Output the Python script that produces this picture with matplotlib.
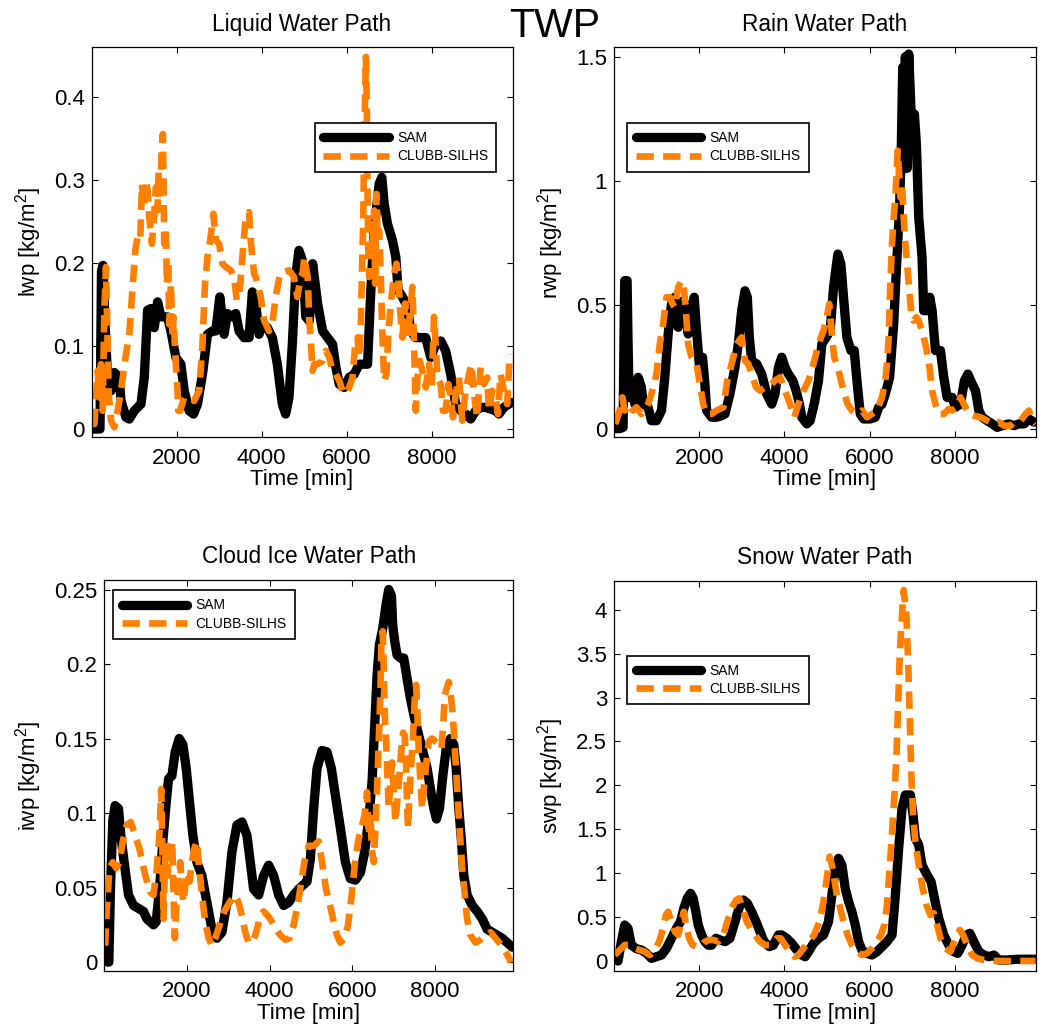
import matplotlib
matplotlib.use("Agg")
import matplotlib.pyplot as plt
from matplotlib.ticker import FuncFormatter

plt.rcParams['font.family'] = ['Liberation Sans', 'DejaVu Sans']
plt.rcParams['mathtext.fontset'] = 'custom'
plt.rcParams['mathtext.rm'] = 'Liberation Sans'
plt.rcParams['mathtext.it'] = 'Liberation Sans:italic'

# ---------------- data (time in minutes, paths in kg/m^2) ----------------
lwp_sam_t = [20, 107, 200, 235, 270, 300, 341, 380, 459, 537, 654, 693, 811, 889, 1006, 1163, 1241, 1319, 1397,
             1476, 1554, 1632, 1788, 1867, 1984, 2101, 2180, 2297, 2399, 2493, 2610, 2727, 2845, 2923, 3017,
             3118, 3197, 3298, 3392, 3470, 3588, 3705, 3783, 3862, 3940, 4018, 4135, 4253, 4370, 4487, 4566,
             4644, 4722, 4800, 4878, 4957, 5040, 5122, 5200, 5317, 5435, 5552, 5669, 5748, 5826, 5943, 6060,
             6178, 6295, 6412, 6491, 6569, 6647, 6764, 6827, 6882, 6960, 7077, 7156, 7210, 7312, 7430, 7508,
             7625, 7742, 7860, 7977, 8094, 8212, 8329, 8446, 8564, 8681, 8798, 8916, 9033, 9150, 9268, 9385,
             9502, 9581, 9698, 9815, 9880]
lwp_sam = [0.0, 0.0, 0.0, 0.19, 0.197, 0.15, 0.10, 0.062, 0.046, 0.068, 0.062, 0.034, 0.014, 0.012, 0.022, 0.03,
           0.062, 0.143, 0.145, 0.122, 0.153, 0.135, 0.135, 0.118, 0.086, 0.078, 0.046, 0.022, 0.018, 0.030,
           0.066, 0.114, 0.118, 0.118, 0.159, 0.114, 0.139, 0.135, 0.139, 0.118, 0.110, 0.110, 0.165, 0.151,
           0.114, 0.127, 0.122, 0.110, 0.078, 0.030, 0.018, 0.038, 0.102, 0.183, 0.215, 0.203, 0.135, 0.130,
           0.199, 0.151, 0.118, 0.110, 0.102, 0.074, 0.054, 0.050, 0.062, 0.066, 0.078, 0.078, 0.078, 0.167,
           0.239, 0.295, 0.303, 0.271, 0.247, 0.227, 0.207, 0.167, 0.159, 0.147, 0.118, 0.110, 0.110, 0.110,
           0.086, 0.102, 0.106, 0.094, 0.066, 0.030, 0.022, 0.018, 0.012, 0.022, 0.026, 0.026, 0.024, 0.022,
           0.018, 0.026, 0.030, 0.032]

lwp_clubb_t = [20, 67, 146, 185, 224, 263, 302, 341, 380, 404, 459, 537, 615, 693, 811, 889, 967, 1030, 1084,
               1147, 1186, 1241, 1280, 1319, 1358, 1421, 1476, 1515, 1554, 1577, 1616, 1648, 1679, 1695, 1710,
               1749, 1773, 1804, 1828, 1867, 1906, 1929, 1984, 2023, 2039, 2086, 2180, 2297, 2415, 2532, 2610,
               2665, 2727, 2790, 2868, 2923, 3001, 3079, 3158, 3275, 3353, 3416, 3470, 3525, 3572, 3627, 3705,
               3744, 3783, 3823, 3862, 3901, 3979, 4057, 4174, 4253, 4331, 4433, 4527, 4644, 4761, 4840, 4918,
               4965, 5004, 5083, 5122, 5161, 5200, 5239, 5317, 5435, 5513, 5591, 5669, 5748, 5826, 5904, 5982,
               6060, 6139, 6201, 6256, 6295, 6334, 6358, 6389, 6412, 6452, 6475, 6491, 6506, 6530, 6569, 6608,
               6647, 6671, 6702, 6725, 6764, 6803, 6843, 6882, 6937, 6984, 7038, 7117, 7171, 7218, 7250, 7312,
               7375, 7430, 7484, 7547, 7586, 7625, 7665, 7719, 7781, 7860, 7938, 8000, 8055, 8094, 8134, 8212,
               8266, 8329, 8392, 8446, 8501, 8564, 8642, 8720, 8798, 8877, 8932, 8994, 9072, 9150, 9229, 9307,
               9346, 9424, 9502, 9557, 9620, 9698, 9776, 9831, 9870]
lwp_clubb = [0.006, 0.006, 0.070, 0.038, 0.078, 0.022, 0.143, 0.195, 0.102, 0.042, 0.010, 0.002, 0.022, 0.046,
             0.090, 0.114, 0.171, 0.215, 0.231, 0.227, 0.295, 0.267, 0.299, 0.287, 0.255, 0.223, 0.259, 0.291,
             0.263, 0.311, 0.275, 0.335, 0.355, 0.295, 0.223, 0.239, 0.175, 0.203, 0.126, 0.175, 0.110, 0.135,
             0.078, 0.046, 0.022, 0.022, 0.038, 0.038, 0.034, 0.046, 0.102, 0.171, 0.207, 0.227, 0.259, 0.227,
             0.223, 0.199, 0.195, 0.191, 0.183, 0.155, 0.159, 0.191, 0.223, 0.255, 0.261, 0.227, 0.207, 0.187,
             0.183, 0.175, 0.159, 0.131, 0.118, 0.127, 0.159, 0.187, 0.189, 0.191, 0.183, 0.159, 0.183, 0.187,
             0.207, 0.183, 0.131, 0.102, 0.070, 0.078, 0.078, 0.082, 0.094, 0.086, 0.070, 0.066, 0.058, 0.046,
             0.042, 0.050, 0.062, 0.102, 0.110, 0.086, 0.127, 0.183, 0.247, 0.343, 0.448, 0.383, 0.291, 0.223,
             0.183, 0.247, 0.223, 0.263, 0.175, 0.283, 0.231, 0.239, 0.183, 0.110, 0.058, 0.066, 0.118, 0.151,
             0.187, 0.199, 0.183, 0.147, 0.110, 0.151, 0.110, 0.135, 0.171, 0.102, 0.022, 0.062, 0.082, 0.070,
             0.050, 0.078, 0.050, 0.135, 0.102, 0.062, 0.054, 0.022, 0.022, 0.054, 0.038, 0.014, 0.042, 0.062,
             0.010, 0.046, 0.066, 0.078, 0.042, 0.014, 0.074, 0.054, 0.062, 0.022, 0.046, 0.038, 0.018, 0.066,
             0.046, 0.030, 0.086, 0.090]

rwp_sam_t = [20, 134, 213, 240, 252, 307, 330, 354, 409, 487, 566, 644, 683, 801, 879, 997, 1115, 1193, 1272,
             1350, 1428, 1507, 1570, 1624, 1687, 1742, 1820, 1883, 1938, 2001, 2079, 2134, 2174, 2291, 2409,
             2526, 2605, 2722, 2840, 2918, 2997, 3075, 3130, 3177, 3232, 3350, 3468, 3585, 3703, 3781, 3860,
             3938, 4016, 4095, 4197, 4275, 4354, 4409, 4526, 4605, 4699, 4801, 4879, 4981, 5075, 5154, 5256,
             5326, 5389, 5467, 5562, 5640, 5703, 5781, 5860, 6017, 6134, 6213, 6291, 6370, 6471, 6566, 6644,
             6707, 6746, 6778, 6805, 6840, 6885, 6919, 6958, 6997, 7052, 7099, 7154, 7232, 7271, 7350, 7413,
             7468, 7546, 7664, 7742, 7820, 7938, 8016, 8134, 8228, 8307, 8409, 8487, 8565, 8644, 8762, 8879,
             8997, 9115, 9271, 9389, 9507, 9624, 9742, 9860]
rwp_sam = [0.0, 0.0, 0.005, 0.45, 0.597, 0.597, 0.35, 0.126, 0.167, 0.1, 0.207, 0.167, 0.10, 0.086, 0.032, 0.032,
           0.073, 0.207, 0.382, 0.503, 0.530, 0.409, 0.449, 0.516, 0.476, 0.382, 0.489, 0.530, 0.395, 0.261,
           0.288, 0.180, 0.073, 0.046, 0.046, 0.052, 0.059, 0.140, 0.247, 0.341, 0.476, 0.556, 0.530, 0.368,
           0.274, 0.261, 0.220, 0.140, 0.099, 0.140, 0.247, 0.288, 0.247, 0.220, 0.194, 0.153, 0.099, 0.046,
           0.019, 0.032, 0.099, 0.194, 0.341, 0.368, 0.395, 0.570, 0.704, 0.664, 0.530, 0.368, 0.315, 0.315,
           0.194, 0.059, 0.039, 0.039, 0.046, 0.086, 0.099, 0.140, 0.207, 0.422, 0.691, 0.906, 1.148, 1.457,
           1.05, 1.50, 1.05, 1.511, 1.349, 1.161, 1.269, 1.148, 0.852, 0.691, 0.476, 0.476, 0.530, 0.476,
           0.315, 0.315, 0.207, 0.126, 0.126, 0.086, 0.099, 0.194, 0.220, 0.180, 0.153, 0.073, 0.046, 0.032,
           0.019, 0.005, 0.012, 0.019, 0.012, 0.019, 0.019, 0.039, 0.026]

rwp_clubb_t = [20, 56, 134, 197, 252, 330, 385, 448, 526, 644, 722, 801, 879, 997, 1075, 1154, 1232, 1311, 1374,
               1428, 1507, 1585, 1640, 1687, 1742, 1820, 1938, 2016, 2095, 2174, 2291, 2409, 2566, 2660, 2762,
               2879, 2997, 3075, 3154, 3232, 3334, 3428, 3546, 3664, 3781, 3899, 4016, 4134, 4236, 4330, 4448,
               4566, 4683, 4801, 4918, 4997, 5052, 5115, 5169, 5232, 5311, 5389, 5483, 5585, 5703, 5821, 5938,
               6056, 6173, 6291, 6370, 6409, 6448, 6487, 6526, 6566, 6605, 6628, 6660, 6699, 6722, 6762, 6801,
               6840, 6895, 6934, 6981, 7036, 7099, 7154, 7232, 7311, 7389, 7468, 7546, 7624, 7742, 7860, 7938,
               8056, 8134, 8212, 8330, 8447, 8605, 8762, 8918, 9036, 9154, 9311, 9428, 9546, 9664, 9742, 9820,
               9899]
rwp_clubb = [0.02, 0.032, 0.073, 0.126, 0.073, 0.086, 0.099, 0.073, 0.086, 0.059, 0.073, 0.099, 0.140, 0.220,
             0.341, 0.422, 0.530, 0.530, 0.503, 0.489, 0.570, 0.597, 0.570, 0.476, 0.341, 0.288, 0.261, 0.180,
             0.099, 0.059, 0.059, 0.073, 0.086, 0.194, 0.261, 0.341, 0.368, 0.274, 0.261, 0.220, 0.167, 0.153,
             0.167, 0.173, 0.194, 0.207, 0.153, 0.099, 0.046, 0.099, 0.153, 0.194, 0.261, 0.341, 0.395, 0.449,
             0.503, 0.382, 0.288, 0.261, 0.207, 0.153, 0.099, 0.073, 0.059, 0.073, 0.046, 0.059, 0.073, 0.126,
             0.194, 0.261, 0.368, 0.583, 0.745, 0.852, 0.933, 1.013, 1.121, 1.013, 0.933, 0.987, 0.852, 0.745,
             0.637, 0.556, 0.462, 0.435, 0.449, 0.435, 0.395, 0.341, 0.274, 0.153, 0.099, 0.059, 0.059, 0.079,
             0.073, 0.086, 0.126, 0.099, 0.059, 0.052, 0.046, 0.032, 0.019, 0.026, 0.012, 0.012, 0.032, 0.032,
             0.059, 0.073, 0.032, 0.019]

iwp_sam_t = [20, 80, 110, 150, 206, 262, 343, 400, 481, 586, 707, 828, 949, 1030, 1111, 1191, 1256, 1337, 1417,
             1498, 1555, 1636, 1716, 1813, 1902, 1983, 2064, 2144, 2241, 2363, 2484, 2605, 2726, 2847, 2968,
             3090, 3211, 3332, 3453, 3534, 3614, 3736, 3857, 3978, 4099, 4220, 4341, 4463, 4584, 4705, 4826,
             4906, 4987, 5068, 5149, 5270, 5391, 5496, 5593, 5714, 5835, 5956, 6078, 6199, 6304, 6401, 6481,
             6546, 6603, 6659, 6740, 6821, 6885, 6950, 6982, 7031, 7087, 7168, 7249, 7330, 7410, 7491, 7612,
             7733, 7814, 7895, 7976, 8040, 8113, 8194, 8275, 8380, 8460, 8517, 8581, 8646, 8703, 8783, 8905,
             9026, 9147, 9268, 9389, 9510, 9632, 9753, 9874]
iwp_sam = [0.013, 0.0, 0.0, 0.05, 0.095, 0.105, 0.103, 0.085, 0.067, 0.045, 0.038, 0.036, 0.034, 0.029, 0.027,
           0.025, 0.027, 0.049, 0.081, 0.107, 0.123, 0.125, 0.141, 0.150, 0.146, 0.130, 0.107, 0.085, 0.067,
           0.058, 0.040, 0.022, 0.016, 0.020, 0.040, 0.074, 0.092, 0.094, 0.085, 0.067, 0.049, 0.045, 0.058,
           0.065, 0.058, 0.045, 0.038, 0.040, 0.045, 0.049, 0.052, 0.054, 0.069, 0.103, 0.130, 0.142, 0.141,
           0.130, 0.112, 0.090, 0.067, 0.056, 0.055, 0.060, 0.074, 0.096, 0.121, 0.159, 0.193, 0.213, 0.224,
           0.240, 0.250, 0.246, 0.226, 0.215, 0.206, 0.204, 0.204, 0.190, 0.177, 0.166, 0.152, 0.139, 0.130,
           0.116, 0.103, 0.096, 0.103, 0.125, 0.143, 0.150, 0.146, 0.130, 0.103, 0.081, 0.058, 0.045, 0.038,
           0.034, 0.029, 0.022, 0.020, 0.018, 0.016, 0.013, 0.010]

iwp_clubb_t = [20, 61, 125, 206, 287, 368, 448, 545, 642, 747, 852, 933, 1014, 1111, 1191, 1272, 1337, 1377,
               1401, 1417, 1434, 1466, 1498, 1531, 1563, 1611, 1644, 1676, 1708, 1741, 1797, 1837, 1878, 1918,
               1967, 2015, 2064, 2120, 2177, 2241, 2298, 2363, 2443, 2524, 2605, 2686, 2791, 2904, 3033, 3154,
               3251, 3332, 3413, 3493, 3574, 3655, 3760, 3857, 3962, 4059, 4164, 4261, 4382, 4487, 4584, 4681,
               4769, 4842, 4947, 5068, 5189, 5270, 5367, 5448, 5553, 5633, 5714, 5819, 5900, 5981, 6061, 6142,
               6223, 6304, 6360, 6401, 6441, 6481, 6522, 6562, 6603, 6643, 6684, 6708, 6740, 6764, 6788, 6821,
               6853, 6885, 6926, 6966, 7006, 7047, 7087, 7144, 7192, 7233, 7273, 7305, 7330, 7354, 7386, 7418,
               7467, 7515, 7548, 7580, 7612, 7653, 7693, 7733, 7790, 7855, 7935, 8016, 8097, 8161, 8202, 8242,
               8291, 8339, 8388, 8436, 8485, 8541, 8598, 8662, 8727, 8783, 8864, 8985, 9106, 9228, 9349, 9470,
               9591, 9712, 9809, 9858]
iwp_clubb = [0.011, 0.036, 0.063, 0.067, 0.063, 0.067, 0.081, 0.092, 0.094, 0.085, 0.076, 0.065, 0.056, 0.047,
             0.045, 0.063, 0.087, 0.116, 0.085, 0.058, 0.029, 0.065, 0.081, 0.058, 0.076, 0.065, 0.081, 0.045,
             0.016, 0.036, 0.052, 0.067, 0.049, 0.040, 0.054, 0.060, 0.054, 0.067, 0.076, 0.081, 0.063, 0.045,
             0.027, 0.016, 0.011, 0.016, 0.025, 0.034, 0.040, 0.045, 0.040, 0.031, 0.020, 0.013, 0.013, 0.018,
             0.029, 0.034, 0.031, 0.027, 0.022, 0.018, 0.015, 0.016, 0.025, 0.038, 0.054, 0.067, 0.078, 0.078,
             0.081, 0.067, 0.049, 0.040, 0.027, 0.018, 0.013, 0.016, 0.025, 0.043, 0.065, 0.081, 0.090, 0.099,
             0.114, 0.085, 0.099, 0.074, 0.067, 0.090, 0.116, 0.148, 0.181, 0.215, 0.222, 0.197, 0.166, 0.148,
             0.125, 0.103, 0.121, 0.134, 0.114, 0.094, 0.107, 0.125, 0.143, 0.154, 0.152, 0.134, 0.103, 0.090,
             0.112, 0.128, 0.148, 0.177, 0.186, 0.166, 0.141, 0.121, 0.103, 0.116, 0.132, 0.148, 0.150, 0.148,
             0.146, 0.143, 0.159, 0.179, 0.184, 0.188, 0.179, 0.166, 0.143, 0.116, 0.090, 0.063, 0.045, 0.029,
             0.018, 0.013, 0.015, 0.018, 0.020, 0.016, 0.012, 0.007, 0.002, 0.000]

swp_sam_t = [20, 95, 174, 252, 330, 409, 526, 644, 762, 879, 997, 1115, 1232, 1350, 1468, 1562, 1640, 1719, 1797,
             1860, 1922, 1977, 2056, 2134, 2213, 2291, 2393, 2487, 2605, 2722, 2840, 2958, 3036, 3130, 3232,
             3334, 3428, 3522, 3648, 3742, 3860, 3938, 4056, 4174, 4291, 4409, 4487, 4566, 4683, 4801, 4919,
             5036, 5115, 5193, 5271, 5350, 5428, 5507, 5585, 5664, 5742, 5821, 5938, 6056, 6173, 6291, 6409,
             6527, 6605, 6683, 6762, 6840, 6958, 7021, 7075, 7154, 7232, 7350, 7444, 7523, 7624, 7742, 7860,
             7977, 8071, 8173, 8275, 8354, 8448, 8565, 8683, 8801, 8918, 9036, 9232, 9467, 9703, 9899]
swp_sam = [0.05, 0.0, 0.22, 0.41, 0.37, 0.18, 0.14, 0.125, 0.087, 0.03, 0.049, 0.068, 0.144, 0.258, 0.372,
           0.448, 0.60, 0.713, 0.77, 0.713, 0.56, 0.41, 0.296, 0.22, 0.18, 0.18, 0.258, 0.24, 0.22, 0.258, 0.448,
           0.638, 0.694, 0.657, 0.56, 0.448, 0.334, 0.22, 0.163, 0.18, 0.296, 0.296, 0.258, 0.20, 0.125, 0.068,
           0.049, 0.106, 0.20, 0.258, 0.296, 0.448, 0.751, 1.055, 1.169, 1.093, 0.827, 0.676, 0.562, 0.41, 0.22,
           0.125, 0.087, 0.068, 0.106, 0.163, 0.22, 0.296, 0.751, 1.283, 1.738, 1.89, 1.89, 1.662, 1.397, 1.321,
           1.093, 0.979, 0.903, 0.713, 0.486, 0.296, 0.182, 0.106, 0.087, 0.182, 0.296, 0.315, 0.22, 0.106,
           0.068, 0.049, 0.068, 0.011, 0.011, 0.02, 0.02, 0.02]

swp_clubb_t = [17, 134, 252, 370, 487, 605, 722, 840, 958, 1060, 1154, 1217, 1272, 1350, 1428, 1507, 1585, 1640,
               1703, 1766, 1844, 1938, 2032, 2134, 2236, 2330, 2448, 2566, 2660, 2762, 2864, 2942, 3021, 3115,
               3209, 3311, 3428, 3546, 3648, 3742, 3821, 3915, 4017, 4134, 4236, 4330, 4448, 4566, 4699, 4824,
               4918, 4997, 5060, 5115, 5169, 5232, 5311, 5389, 5483, 5585, 5703, 5821, 5938, 6056, 6173, 6268,
               6346, 6409, 6487, 6566, 6628, 6668, 6707, 6746, 6801, 6864, 6903, 6942, 6981, 7021, 7075, 7154,
               7232, 7334, 7428, 7507, 7585, 7664, 7781, 7899, 8016, 8118, 8197, 8291, 8409, 8526, 8683, 8918,
               9311, 9899]
swp_clubb = [0.068, 0.125, 0.182, 0.182, 0.144, 0.125, 0.106, 0.068, 0.125, 0.22, 0.372, 0.524, 0.56, 0.448,
             0.334, 0.296, 0.448, 0.56, 0.372, 0.258, 0.182, 0.163, 0.163, 0.22, 0.24, 0.24, 0.22, 0.296, 0.448,
             0.60, 0.694, 0.713, 0.60, 0.448, 0.372, 0.296, 0.22, 0.182, 0.182, 0.22, 0.258, 0.258, 0.182, 0.106,
             0.049, 0.068, 0.144, 0.22, 0.296, 0.448, 0.676, 0.941, 1.188, 1.093, 0.941, 0.751, 0.60, 0.448,
             0.296, 0.182, 0.106, 0.068, 0.087, 0.144, 0.22, 0.296, 0.41, 0.638, 1.169, 1.738, 2.307, 2.877,
             3.446, 3.825, 4.224, 3.939, 3.446, 2.801, 2.118, 1.662, 1.359, 1.093, 0.865, 0.638, 0.524, 0.543,
             0.41, 0.258, 0.144, 0.106, 0.258, 0.353, 0.296, 0.182, 0.068, 0.03, 0.011, 0.0, 0.0, 0.0]

titles = ["Liquid Water Path", "Rain Water Path", "Cloud Ice Water Path", "Snow Water Path"]
ylabels = ["lwp [kg/m$^2$]", "rwp [kg/m$^2$]", "iwp [kg/m$^2$]", "swp [kg/m$^2$]"]
series_names = ["SAM", "CLUBB-SILHS"]
x_ticks = [2000, 4000, 6000, 8000]
y_ticks = [[0, 0.1, 0.2, 0.3, 0.4],
           [0, 0.5, 1, 1.5],
           [0, 0.05, 0.1, 0.15, 0.2, 0.25],
           [0, 0.5, 1, 1.5, 2, 2.5, 3, 3.5, 4]]
suptitle = "TWP"

# ---------------- layout / style ----------------
W, H = 1045, 1032
fig = plt.figure(figsize=(W / 100, H / 100), dpi=100)

def rect(x0, x1, y0, y1):
    return [x0 / W, 1 - y1 / H, (x1 - x0) / W, (y1 - y0) / H]

rects = [rect(91.5, 512.5, 47.3, 437.3), rect(614, 1035.7, 47.3, 437.3),
         rect(104.3, 513.3, 580, 971), rect(614, 1035.7, 580.7, 971)]
ylims = [(-0.010, 0.4595), (-0.035, 1.538), (-0.006, 0.2564), (-0.114, 4.33)]
leg_anchor = [(0.531, 0.806), (0.0315, 0.806), (0.022, 0.974), (0.0315, 0.808)]

data = [(lwp_sam_t, lwp_sam, lwp_clubb_t, lwp_clubb),
        (rwp_sam_t, rwp_sam, rwp_clubb_t, rwp_clubb),
        (iwp_sam_t, iwp_sam, iwp_clubb_t, iwp_clubb),
        (swp_sam_t, swp_sam, swp_clubb_t, swp_clubb)]

ORANGE = '#FF8000'
fmt = FuncFormatter(lambda v, p: '%g' % round(v, 6))

for i in range(4):
    ax = fig.add_axes(rects[i])
    st, sv, ct, cv = data[i]
    ax.plot(st, sv, color='black', lw=6.7, solid_joinstyle='round', solid_capstyle='round',
            label=series_names[0])
    ax.plot(ct, cv, color=ORANGE, lw=4.8, linestyle=(0, (2.6, 1.4)), dash_capstyle='butt',
            dash_joinstyle='round', label=series_names[1])
    ax.set_xlim(0, 9900)
    ax.set_ylim(*ylims[i])
    ax.set_xticks(x_ticks)
    ax.set_yticks(y_ticks[i])
    ax.yaxis.set_major_formatter(fmt)
    ax.xaxis.set_major_formatter(fmt)
    ax.tick_params(direction='in', top=True, right=True, length=4, width=0.8, labelsize=16)
    ax.tick_params(axis='x', pad=7.5)
    ax.tick_params(axis='y', pad=5)
    for s in ax.spines.values():
        s.set_linewidth(0.9)
    ax.set_title(titles[i], fontsize=16.3, pad=12)
    ax.set_xlabel("Time [min]", fontsize=16, labelpad=0.5)
    ax.set_ylabel(ylabels[i], fontsize=16, labelpad=7)
    leg = ax.legend(loc='upper left', bbox_to_anchor=leg_anchor[i], borderaxespad=0, fontsize=10,
                    handlelength=4.7, handletextpad=0.6, borderpad=0.6, labelspacing=0.3,
                    frameon=True, fancybox=False, edgecolor='black', framealpha=1)
    leg.get_frame().set_linewidth(1.2)

fig.text(554.5 / W, 1 - 36.8 / H, suptitle, ha='center', va='baseline', fontsize=29.5)

fig.savefig("out.png", dpi=100)
